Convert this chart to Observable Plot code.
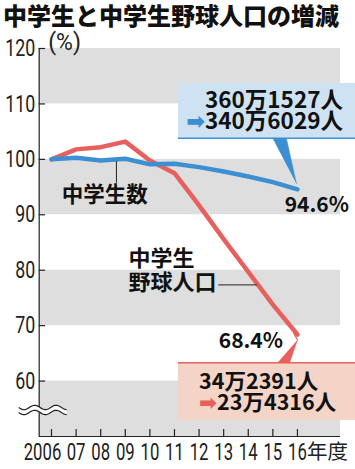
<!DOCTYPE html>
<html><head><meta charset="utf-8">
<script src="https://cdn.jsdelivr.net/npm/d3@7"></script>
<script src="https://cdn.jsdelivr.net/npm/@observablehq/plot@0.6"></script>
<style>
body{margin:0;background:#fff;width:355px;height:469px;overflow:hidden;}
#title{font-family:"Noto Sans CJK JP",sans-serif;font-weight:900;font-size:24px;line-height:30px;height:30px;margin:0;padding-left:3px;white-space:nowrap;color:#111}
#chart svg{display:block}
</style></head><body>
<div id="title">中学生と中学生野球人口の増減</div>
<div id="chart"></div>
<script>
// ---- data ----
const years = [2006, 2007, 2008, 2009, 2010, 2011, 2012, 2013, 2014, 2015, 2016];
const studentIndex = [100, 100.3, 99.8, 100.1, 99.1, 99.2, 98.6, 97.8, 96.9, 95.9, 94.6];
const baseballIndex = [100, 101.8, 102.2, 103.2, 99.8, 97.5, 91.7, 85.6, 79.7, 73.8, 68.4];
const xTickLabels = ["2006", "07", "08", "09", "10", "11", "12", "13", "14", "15", "16"];
const yTicks = [60, 70, 80, 90, 100, 110, 120];
const bandRanges = [[50, 60], [70, 80], [90, 100], [110, 120]];
const studentCounts = ["360万1527人", "➡340万6029人"];
const baseballCounts = ["34万2391人", "➡23万4316人"];
const endLabels = ["94.6%", "68.4%"];

// ---- styles ----
const BLUE = "#3b8fd2", RED = "#e8605e";
const NUMF = "Roboto,'DejaVu Sans',sans-serif";
const CJK = "'Noto Sans CJK JP',sans-serif";
const X0 = 2005.5, X1 = 2017.75, Y0 = 50;

const student = years.map((y, i) => ({year: y, v: studentIndex[i]}));
const baseball = years.map((y, i) => ({year: y, v: baseballIndex[i]}));
const bands = bandRanges.map(([a, b]) => ({a, b}));
const xt = years.map((y, i) => ({year: y, label: xTickLabels[i]}));
const one = [0];

const plot = Plot.plot({
  width: 355, height: 439,
  marginLeft: 38.7, marginRight: 15, marginTop: 18, marginBottom: 33,
  x: {domain: [X0, X1], axis: null},
  y: {domain: [Y0, 120], axis: null},
  style: {background: "#fff", overflow: "visible", fontFamily: CJK},
  marks: [
    Plot.rect(bands, {x1: () => X0, x2: () => X1, y1: "a", y2: "b", fill: "#dedede"}),
    Plot.rect(one, {x1: () => 2011.16, x2: () => 2018.5, y1: () => 103.8, y2: () => 113.7, fill: "#cfe2f1"}),
    Plot.ruleY(one, {y: () => 103.8, x1: () => 2011.16, x2: () => 2018.5, stroke: BLUE, strokeWidth: 1.6}),
    Plot.line([{x: 2014.99, y: 103.8}, {x: 2015.55, y: 103.8}, {x: 2015.96, y: 95.6}], {x: "x", y: "y", fill: BLUE, stroke: BLUE, strokeWidth: 0.5}),
    Plot.rect(one, {x1: () => 2011.16, x2: () => 2018.5, y1: () => 52.9, y2: () => 63.3, fill: "#f3d4c7"}),
    Plot.ruleY(one, {y: () => 63.3, x1: () => 2011.16, x2: () => 2018.5, stroke: RED, strokeWidth: 1.6}),
    Plot.line([{x: 2015.19, y: 63.3}, {x: 2015.68, y: 63.3}, {x: 2016.0, y: 67.4}], {x: "x", y: "y", fill: RED, stroke: RED, strokeWidth: 0.5}),
    Plot.line([{x: 2016.0, y: 67.4}, {x: 2015.85, y: 68.6}], {x: "x", y: "y", stroke: RED, strokeWidth: 1.2}),
    Plot.ruleX(one, {x: () => X0, y1: () => Y0, y2: () => 120, stroke: "#222", strokeWidth: 1.2}),
    Plot.ruleY(one, {y: () => Y0, x1: () => X0, x2: () => X1, stroke: "#222", strokeWidth: 1.2}),
    Plot.ruleY(yTicks, {y: d => d, x1: () => X0, x2: () => X0 + 0.26, stroke: "#222", strokeWidth: 1.2}),
    Plot.ruleX(years, {x: d => d, y1: () => Y0, y2: () => Y0 + 1.25, stroke: "#222", strokeWidth: 1.2}),
    Plot.text(yTicks, {x: () => X0, y: d => d, text: d => String(d), textAnchor: "end", dx: -4, fontSize: 24, fontFamily: NUMF, fill: "#222"}),
    Plot.text(["(%)"], {x: () => X0, y: () => 120, text: d => d, textAnchor: "start", dx: 9, dy: -6, fontSize: 23, fontFamily: NUMF, fill: "#222"}),
    Plot.text(xt.filter(d => d.year === 2006), {x: "year", y: () => Y0, text: "label", dy: 16, dx: -9, fontSize: 24, fontFamily: NUMF, fill: "#222"}),
    Plot.text(xt.filter(d => d.year !== 2006), {x: "year", y: () => Y0, text: "label", dy: 16, fontSize: 24, fontFamily: NUMF, fill: "#222"}),
    Plot.text(["年度"], {x: () => 2016, y: () => Y0, text: d => d, textAnchor: "start", dx: 9.5, dy: 16, fontSize: 20.5, fontFamily: CJK, fill: "#222"}),
    Plot.line(baseball, {x: "year", y: "v", stroke: RED, strokeWidth: 4.5, strokeLinejoin: "round"}),
    Plot.line(student, {x: "year", y: "v", stroke: BLUE, strokeWidth: 4.5, strokeLinejoin: "round"}),
    Plot.ruleX(one, {x: () => 2008.64, y1: () => 99.6, y2: () => 95.7, stroke: "#222", strokeWidth: 1}),
    Plot.text(["中学生数"], {x: () => 2008.17, y: () => 93.55, text: d => d, fontSize: 21.5, fontWeight: "bold", fill: "#111"}),
    Plot.text(["中学生\n野球人口"], {x: () => 2009.13, y: () => 80.05, text: d => d, textAnchor: "start", lineHeight: 1.1, fontSize: 22, fontWeight: "bold", fill: "#111"}),
    Plot.ruleY(one, {y: () => 77.35, x1: () => 2012.8, x2: () => 2014.37, stroke: "#222", strokeWidth: 1}),
    Plot.text([endLabels[0]], {x: () => 2015.48, y: () => 91.75, text: d => d, textAnchor: "start", fontSize: 21, fontWeight: "bold", fill: "#111"}),
    Plot.text([endLabels[1]], {x: () => 2012.8, y: () => 67.1, text: d => d, textAnchor: "start", fontSize: 21, fontWeight: "bold", fill: "#111"}),
    Plot.text(studentCounts, {x: () => 2017.85, y: (d, i) => [110.64, 106.86][i], text: d => d, textAnchor: "end", fontSize: 22.5, fontWeight: "bold", fill: "#111"}),
    Plot.text(baseballCounts, {x: () => 2012.0, y: (d, i) => [59.9, 55.94][i], text: d => d, textAnchor: "start", fontSize: 21.5, fontWeight: "bold", fill: "#111"})
  ]
});

// measure after attaching to the document
document.getElementById("chart").appendChild(plot);

d3.select(plot).selectAll("text").each(function() {
  const t = this.textContent;
  const el = d3.select(this);
  if (t.startsWith("➡")) {
    const col = t.includes("340") ? BLUE : RED;
    el.text(null);
    el.append("tspan").attr("fill", col).style("font-family", "'DejaVu Sans',sans-serif").text("➡");
    el.append("tspan").text(t.slice(1));
  } else if (/^[0-9]+$/.test(t) || t === "(%)") {
    const anchor = this.getAttribute("text-anchor") || getComputedStyle(this).textAnchor;
    const isY = anchor === "end";
    const target = t === "(%)" ? 34 : t.length * (isY ? 10 : 9.4);
    const bb = this.getBBox();
    const k = Math.min(1, target / bb.width);
    const ax = isY ? bb.x + bb.width : (t === "(%)" ? bb.x : bb.x + bb.width / 2);
    const tr = this.getAttribute("transform") || "";
    el.attr("transform", `${tr} translate(${ax},0) scale(${k},1) translate(${-ax},0)`);
  }
});

const sx = plot.scale("x"), sy = plot.scale("y");
const cx = sx.apply(X0), cy = sy.apply(54.7);
const g = d3.select(plot).append("g");
const wave = (off) => {
  const pts = [];
  for (let i = 0; i <= 40; i++) {
    const px = cx - 20 + i * 48 / 40;
    pts.push([px, cy + off + 2.2 * Math.sin((i / 40) * Math.PI * 4.5)]);
  }
  return pts;
};
const waveTop = wave(-2.5), waveBot = wave(2.5);
g.append("path").attr("d", d3.line()(waveTop.concat(waveBot.slice().reverse())) + "Z").attr("fill", "#fff");
g.append("path").attr("d", d3.line()(waveTop)).attr("fill", "none").attr("stroke", "#222").attr("stroke-width", 1.2);
g.append("path").attr("d", d3.line()(waveBot)).attr("fill", "none").attr("stroke", "#222").attr("stroke-width", 1.2);
</script>
</body></html>
